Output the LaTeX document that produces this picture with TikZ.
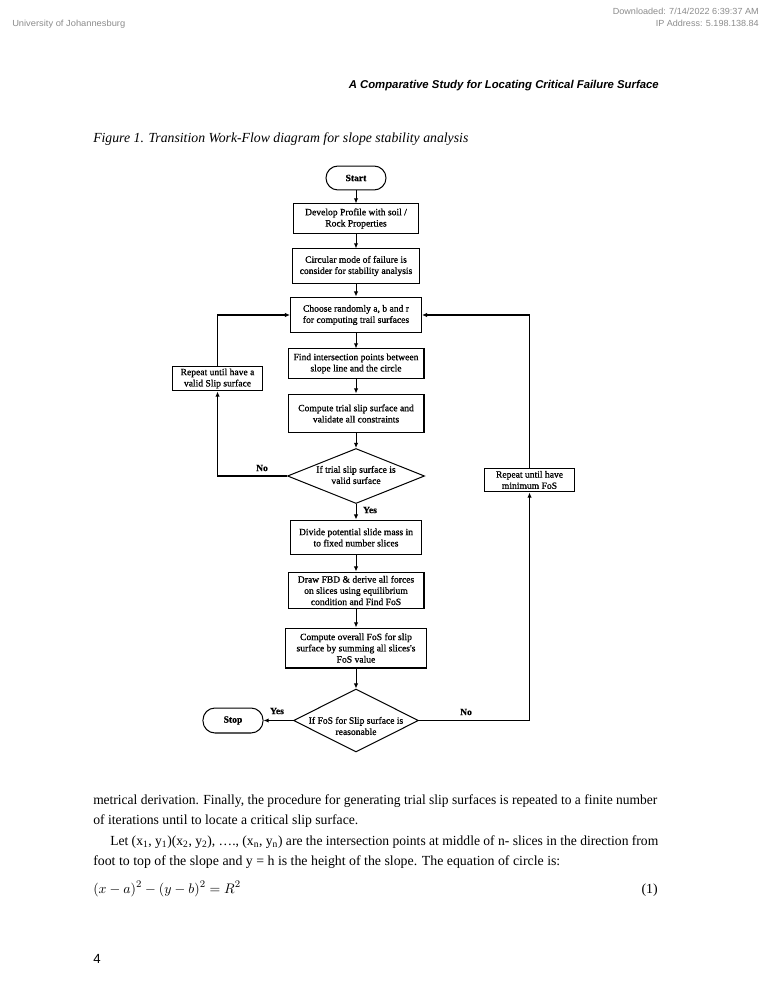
\documentclass[tikz,border=0pt]{standalone}
\usepackage{fontspec}
\usepackage{graphicx}
\setmainfont{Liberation Serif}
\newfontfamily\arialf{Liberation Sans}
\newfontfamily\boxf[FakeBold=0.8]{Liberation Serif}
\usetikzlibrary{shapes.geometric,arrows.meta}
\definecolor{hdrgray}{HTML}{8C8C8C}
\tikzset{
  box/.style={draw, line width=0.8pt, inner xsep=0.5pt, inner ysep=1pt, align=center,
    font=\boxf\fontsize{7.6}{8.9}\selectfont},
  term/.style={box, rounded corners=9.5pt, font=\boxf\bfseries\fontsize{7.6}{9}\selectfont},
  dia/.style={draw, diamond, line width=0.8pt, inner sep=0pt},
  boxtext/.style={inner sep=0pt, align=center, font=\boxf\fontsize{7.6}{8.9}\selectfont},
  lbl/.style={inner sep=0pt, font=\boxf\bfseries\fontsize{7.6}{9}\selectfont},
  flow/.style={-{Latex[length=4pt,width=3.4pt]}, line width=0.8pt},
  body/.style={anchor=base west, inner sep=0pt, font=\fontsize{11}{13}\selectfont},
}
\begin{document}
\begin{tikzpicture}[x=0.7927pt,y=-0.7927pt]
\useasboundingbox (0,0) rectangle (772,1000);
\fill[white] (0,0) rectangle (772,1000);

% page header
\node[anchor=base west, inner sep=0pt, text=hdrgray, font=\arialf\fontsize{7}{8}\selectfont] (uni) at (12,27)
  {\resizebox{89.6pt}{\height}{University of Johannesburg}};
\node[anchor=base east, inner sep=0pt, text=hdrgray, font=\arialf\fontsize{7}{8}\selectfont] (dl) at (759,15)
  {\resizebox{115.7pt}{\height}{Downloaded: 7/14/2022 6:39:37 AM}};
\node[anchor=base east, inner sep=0pt, text=hdrgray, font=\arialf\fontsize{7}{8}\selectfont] (ip) at (759,27)
  {\resizebox{81.6pt}{\height}{IP Address: 5.198.138.84}};
\node[anchor=base east, inner sep=0pt, font=\arialf\bfseries\itshape\fontsize{9}{11}\selectfont] (run) at (659,89)
  {\resizebox{245.7pt}{\height}{A Comparative Study for Locating Critical Failure Surface}};
\node[anchor=base west, inner sep=0pt, font=\itshape\fontsize{11}{13}\selectfont] (cap) at (93,143)
  {\resizebox{297.3pt}{\height}{Figure 1. Transition Work-Flow diagram for slope stability analysis}};

% flowchart
\node[term, minimum width=47.6pt, minimum height=19pt] (start) at (356,178) {Start};
\node[box, minimum width=99.1pt, minimum height=23pt] (dev) at (356,218.5) {Develop Profile with soil /\\Rock Properties};
\node[box, minimum width=100.7pt, minimum height=27pt] (circ) at (356,266) {Circular mode of failure is\\consider for stability analysis};
\node[box, minimum width=103.8pt, minimum height=28.5pt] (choose) at (356,315) {Choose randomly a, b and r\\for computing trail surfaces};
\node[box, minimum width=107.8pt, minimum height=23pt] (find) at (356,363.5) {Find intersection points between\\slope line and the circle};
\node[box, minimum width=107.8pt, minimum height=30.9pt] (trial) at (356,413.5) {Compute trial slip surface and\\validate all constraints};
\node[dia, minimum width=108.6pt, minimum height=43.6pt] (d1) at (356,476) {};
\node[boxtext] (d1t) at (356,475) {If trial slip surface is\\valid surface};
\node[box, minimum width=104.6pt, minimum height=27.7pt] (divide) at (356,537.5) {Divide potential slide mass in\\to fixed number slices};
\node[box, minimum width=107.8pt, minimum height=29.3pt] (fbd) at (356,590.5) {Draw FBD \& derive all forces\\on slices using equilibrium\\condition and Find FoS};
\node[box, minimum width=111pt, minimum height=31.7pt] (overall) at (356,648) {Compute overall FoS for slip\\surface by summing all slices's\\FoS value};
\node[dia, minimum width=99.1pt, minimum height=49.9pt] (d2) at (356,720.5) {};
\node[boxtext] (d2t) at (356,726) {If FoS for Slip surface is\\reasonable};
\node[term, minimum width=47.6pt, minimum height=19.8pt] (stop) at (233,720.5) {Stop};
\node[box, minimum width=70.6pt, minimum height=19.8pt] (repl) at (217.5,378.5) {Repeat until have a\\valid Slip surface};
\node[box, minimum width=72.1pt, minimum height=19pt] (repr) at (529.5,480) {Repeat until have\\minimum FoS};

\draw[flow] (start) -- (dev);
\draw[flow] (dev) -- (circ);
\draw[flow] (circ) -- (choose);
\draw[flow] (choose) -- (find);
\draw[flow] (find) -- (trial);
\draw[flow] (trial) -- (d1.north);
\draw[flow] (d1.south) -- (divide);
\draw[flow] (divide) -- (fbd);
\draw[flow] (fbd) -- (overall);
\draw[flow] (overall) -- (d2.north);
\draw[flow] (d2.west) -- (stop.east);
\draw[flow] (d2.east) -| (repr.south);
\draw[flow] (repr.north) |- (choose.east);
\draw[flow] (d1.west) -| (repl.south);
\draw[flow] (repl.north) |- (choose.west);

\node[lbl] (no1) at (262,468) {No};
\node[lbl] (yes1) at (370,510) {Yes};
\node[lbl] (yes2) at (277,711) {Yes};
\node[lbl] (no2) at (466,712) {No};

% body text
\node[body] (l1) at (93,804) {\resizebox{447.1pt}{\height}{metrical derivation. Finally, the procedure for generating trial slip surfaces is repeated to a finite number}};
\node[body] (l2) at (93,824) {\resizebox{210.1pt}{\height}{of iterations until to locate a critical slip surface.}};
\node[body] (l3) at (110,845) {\resizebox{434.4pt}{\height}{Let (x\textsubscript{1}, y\textsubscript{1})(x\textsubscript{2}, y\textsubscript{2}), …., (x\textsubscript{n}, y\textsubscript{n}) are the intersection points at middle of n- slices in the direction from}};
\node[body] (l4) at (93,865) {\resizebox{370.2pt}{\height}{foot to top of the slope and y = h is the height of the slope. The equation of circle is:}};
\node[body] (eq) at (93,893) {$(x-a)^2-(y-b)^2=R^2$};
\node[body, anchor=base east] (eqn) at (658,893) {(1)};
\node[anchor=base west, inner sep=0pt, font=\arialf\fontsize{10.5}{12}\selectfont] (pg) at (93,963) {4};
\end{tikzpicture}
\end{document}
